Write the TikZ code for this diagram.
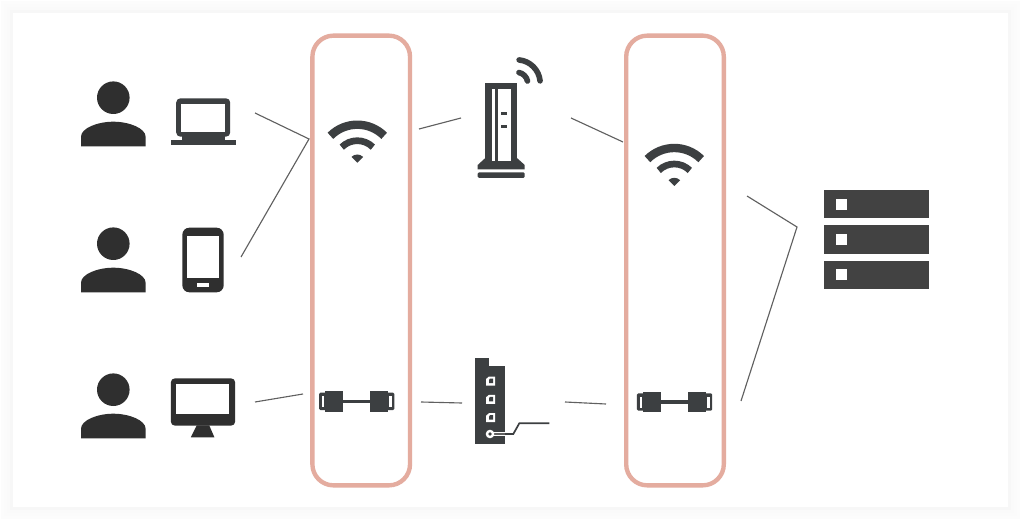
\documentclass[tikz,border=0pt]{standalone}
\definecolor{iconDark}{HTML}{2F2F2F}
\definecolor{iconGrey}{HTML}{3C3F41}
\definecolor{rackGrey}{HTML}{424242}
\definecolor{zoneRed}{HTML}{E4AC9F}
\definecolor{wireGrey}{HTML}{606060}
\tikzset{
  link/.style={draw=wireGrey,line width=0.8pt},
  zonebox/.style={draw=zoneRed,line width=3.1pt,rounded corners=15pt,minimum width=2.44cm,minimum height=11.24cm,inner sep=0pt},
  pics/person/.style={code={
    \fill[iconDark] (0,48.6) circle (16.3);
    \fill[iconDark] (-32.3,0) -- (-32.3,9.6) .. controls (-32.3,18) and (-16,24.6) .. (0,24.6)
      .. controls (16,24.6) and (32.3,18) .. (32.3,9.6) -- (32.3,0) -- cycle;
  }},
  pics/laptop/.style={code={
    \fill[iconGrey,rounded corners=3pt] (-27,8.6) rectangle (27,47);
    \fill[iconGrey] (-21.3,5) rectangle (21.3,10);
    \fill[iconGrey] (-32.5,0) rectangle (32.5,5.3);
    \fill[white] (-22,13.6) rectangle (22,41);
  }},
  pics/phone/.style={code={
    \fill[iconDark,rounded corners=5pt] (-20.7,0) rectangle (20.7,64.6);
    \fill[white] (-15.7,14.6) rectangle (16,56.3);
    \fill[white] (-6.3,5.6) rectangle (6,9);
  }},
  pics/monitor/.style={code={
    \fill[iconDark,rounded corners=3pt] (-32.2,11.6) rectangle (32.2,59);
    \fill[iconDark] (-6.2,12) -- (6.2,12) -- (11.4,0) -- (-12.2,0) -- cycle;
    \fill[white] (-27,23.3) rectangle (26.3,53);
  }},
  pics/wifi/.style={code={
    \draw[iconGrey,line width=5.95pt] (135:38) arc (135:45:38);
    \draw[iconGrey,line width=4.75pt] (135:22) arc (135:45:22);
    \fill[iconGrey] (0,0) -- (45:8.2) arc (45:135:8.2) -- cycle;
  }},
  pics/cable/.style={code={
    \fill[iconGrey] (-14,-1.8) rectangle (14,1.8);
    \fill[iconGrey] (-31.7,-10.4) rectangle (-13.4,10.4);
    \fill[iconGrey] (13.4,-10.4) rectangle (31.7,10.4);
    \fill[iconGrey,rounded corners=1pt] (-37.7,-8.7) rectangle (-30,8.7);
    \fill[iconGrey,rounded corners=1pt] (30,-8.7) rectangle (37.7,8.7);
    \fill[white] (-35,-5.5) rectangle (-32.4,5.5);
    \fill[white] (32.4,-5.5) rectangle (35,5.5);
  }},
  pics/router/.style={code={
    \fill[iconGrey] (-16,15) rectangle (16.3,94.7);
    \fill[iconGrey] (-23.3,8.7) -- (-23.3,13) -- (-16,19.7) -- (16.3,19.7) -- (23.7,13) -- (23.7,8.7) -- cycle;
    \fill[iconGrey,rounded corners=1pt] (-23.3,0) rectangle (23.7,5.7);
    \fill[white] (-9.3,17) rectangle (-6,88.7);
    \fill[white] (-2.7,17) rectangle (10,88.7);
    \fill[iconGrey] (-0.3,62.5) rectangle (6.3,65.5);
    \fill[iconGrey] (-0.3,49.8) rectangle (6.3,52.8);
    \draw[iconGrey,line width=4pt,line cap=round] (15.7,94.7) ++(78:11) arc (78:12:11);
    \draw[iconGrey,line width=4pt,line cap=round] (15.7,94.7) ++(84:23.5) arc (84:6:23.5);
  }},
  pics/switchbox/.style={code={
    \fill[iconGrey] (0,0) rectangle (30,78);
    \fill[iconGrey] (0,78) rectangle (14,85.7);
    \foreach \py in {63,44.7,26.3} {
      \fill[white] (11,\py-4.5) -- (20,\py-4.5) -- (20,\py+4.5) -- (14,\py+4.5) -- (11,\py+2) -- cycle;
      \fill[iconGrey] (14,\py-2) -- (18,\py-2) -- (18,\py+2.5) -- (15,\py+2.5) -- (14,\py+1) -- cycle;
    }
    \draw[white,line width=2.8pt] (15,10) -- (30,10);
    \draw[wireGrey,line width=0.9pt] (15,10) -- (30,10);
    \draw[white,line width=1.7pt,fill=iconGrey] (15,10) circle (3);
  }},
  pics/rack/.style={code={
    \foreach \py in {0,35.3,70.6} {
      \fill[rackGrey] (0,\py) rectangle (105.6,\py+28.2);
      \fill[white] (12.3,\py+8.8) rectangle (23,\py+19.5);
    }
  }}
}
\begin{document}
\begin{tikzpicture}[x=0.025cm,y=0.025cm]
  % Page and soft panel edge
  \useasboundingbox (0,0) rectangle (1024,527);
  \fill[white] (0,0) rectangle (1024,527);
  \foreach \d/\s in {12/1,9/1.5,6/2,3/3} {
    \fill[black!\s] (13-\d,20-\d) rectangle (1008+\d,514+\d);
  }
  \fill[white] (13,20) rectangle (1008,514);

  % Zones
  \node[zonebox] (zoneLeft) at (361.2,266.5) {};
  \node[zonebox] (zoneRight) at (675,266.5) {};

  % Users and their devices
  \pic (userA) at (113.3,380.7) {person};
  \pic (userB) at (113.3,234.7) {person};
  \pic (userC) at (113.3,88.7) {person};
  \pic (laptopA) at (203.2,381.7) {laptop};
  \pic (phoneA) at (203,234.7) {phone};
  \pic (monitorA) at (203,89.7) {monitor};

  % Links inside the zones
  \pic (wifiA) at (357.3,364.3) {wifi};
  \pic (wifiB) at (674.3,341) {wifi};
  \pic (cableA) at (356.7,125.7) {cable};
  \pic (cableB) at (674.5,125) {cable};

  % Middle boxes and server
  \pic (routerA) at (501,349) {router};
  \pic (switchA) at (475,83) {switchbox};
  \pic (rackA) at (823.7,238) {rack};

  % Free ends of the connectors
  \coordinate (laptopEnd) at (255,414);
  \coordinate (phoneEnd) at (241,270);
  \coordinate (wifiJoin) at (309,388);
  \coordinate (monitorEnd) at (255,125);
  \coordinate (cableAIn) at (303,133);
  \coordinate (wifiAOut) at (419,398);
  \coordinate (routerIn) at (461,409);
  \coordinate (routerOut) at (571,409);
  \coordinate (wifiBIn) at (623,385);
  \coordinate (cableAOut) at (421,125);
  \coordinate (switchIn) at (462,124);
  \coordinate (switchOut) at (565,125);
  \coordinate (cableBIn) at (606,123);
  \coordinate (wifiBOut) at (747,331);
  \coordinate (rackJoin) at (797,300);
  \coordinate (cableBOut) at (741,126);
  \coordinate (portBendA) at (513.3,93);
  \coordinate (portBendB) at (519.3,103.7);
  \coordinate (portEnd) at (549.3,103.7);
  \coordinate (portEdge) at (505,93);

  % Connectors
  \draw[link] (laptopEnd) -- (wifiJoin) -- (phoneEnd);
  \draw[link] (monitorEnd) -- (cableAIn);
  \draw[link] (wifiAOut) -- (routerIn);
  \draw[link] (routerOut) -- (wifiBIn);
  \draw[link] (cableAOut) -- (switchIn);
  \draw[link] (switchOut) -- (cableBIn);
  \draw[link] (wifiBOut) -- (rackJoin) -- (cableBOut);
  \draw[iconGrey,line width=1.2pt] (portEdge) -- (portBendA) -- (portBendB) -- (portEnd);
\end{tikzpicture}
\end{document}
